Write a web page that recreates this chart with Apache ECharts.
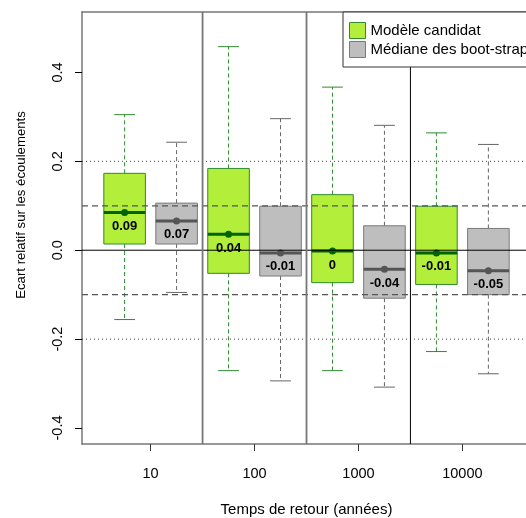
<!DOCTYPE html>
<html><head><meta charset="utf-8">
<script src="https://cdn.jsdelivr.net/npm/echarts@6/dist/echarts.min.js"></script>
<style>html,body{margin:0;padding:0;background:#fff}#c{width:526px;height:518px}</style>
</head><body><div id="c"></div>
<script>
// ---- data ----
const groups = ["10", "100", "1000", "10000"];
const tickPositions = [1.5, 3.5, 5.5, 7.5];
const yTicks = [-0.4, -0.2, 0, 0.2, 0.4];

const candLow  = [-0.156, -0.271, -0.271, -0.228];
const candQ1   = [0.014, -0.052, -0.073, -0.077];
const candMed  = [0.085, 0.036, -0.002, -0.006];
const candQ3   = [0.173, 0.184, 0.125, 0.099];
const candHigh = [0.305, 0.458, 0.367, 0.264];
const candLabels = ["0.09", "0.04", "0", "-0.01"];

const bootLow  = [-0.095, -0.294, -0.308, -0.278];
const bootQ1   = [0.014, -0.058, -0.108, -0.100];
const bootMed  = [0.066, -0.006, -0.043, -0.046];
const bootQ3   = [0.106, 0.099, 0.055, 0.049];
const bootHigh = [0.243, 0.296, 0.281, 0.238];
const bootLabels = ["0.07", "-0.01", "-0.04", "-0.05"];

const refLines = [0.2, 0.1, 0, -0.1, -0.2];
const separators = [2.5, 4.5, 6.5];

const FONT = '"Liberation Sans", Arial, sans-serif';
const BORDER = { color: '#777', width: 1.5 };

function buildData(low, q1, med, q3, high, offset) {
  return groups.map((g, i) => [2 * i + offset, low[i], q1[i], med[i], q3[i], high[i]]);
}

function makeRender(labels, st) {
  return function (params, api) {
    const x = api.value(0);
    const pLow = api.coord([x, api.value(1)]);
    const pQ1 = api.coord([x, api.value(2)]);
    const pMed = api.coord([x, api.value(3)]);
    const pQ3 = api.coord([x, api.value(4)]);
    const pHigh = api.coord([x, api.value(5)]);
    const w = api.size([0.8, 0])[0];
    const cx = pMed[0];
    const dash = { stroke: st.whisk, lineWidth: 1, lineDash: [4, 3] };
    const cap = { stroke: st.whisk, lineWidth: 1 };
    return {
      type: 'group',
      children: [
        { type: 'line', shape: { x1: cx, y1: pQ3[1], x2: cx, y2: pHigh[1] }, style: dash },
        { type: 'line', shape: { x1: cx, y1: pQ1[1], x2: cx, y2: pLow[1] }, style: dash },
        { type: 'line', shape: { x1: cx - w / 4, y1: pHigh[1], x2: cx + w / 4, y2: pHigh[1] }, style: cap },
        { type: 'line', shape: { x1: cx - w / 4, y1: pLow[1], x2: cx + w / 4, y2: pLow[1] }, style: cap },
        { type: 'rect', shape: { x: cx - w / 2, y: pQ3[1], width: w, height: pQ1[1] - pQ3[1] },
          style: { fill: st.fill, stroke: st.stroke, lineWidth: 1 } },
        { type: 'line', shape: { x1: cx - w / 2, y1: pMed[1], x2: cx + w / 2, y2: pMed[1] },
          style: { stroke: st.med, lineWidth: 3 } },
        { type: 'circle', shape: { cx: cx, cy: pMed[1], r: 3.5 }, style: { fill: st.med } },
        { type: 'text', x: cx, y: pMed[1] + 14,
          style: { text: labels[params.dataIndex], align: 'center', verticalAlign: 'middle',
                   fontSize: 13, fontWeight: 'bold', fontFamily: FONT, fill: '#000' } }
      ]
    };
  };
}

const candStyle = { fill: '#B3EE3A', stroke: '#2E8B2E', med: '#006400', whisk: '#2E8B2E' };
const bootStyle = { fill: '#BEBEBE', stroke: '#7A7A7A', med: '#555555', whisk: '#666666' };

const chart = echarts.init(document.getElementById('c'), null, { renderer: 'canvas' });
chart.setOption({
  animation: false,
  backgroundColor: '#fff',
  grid: { left: 82, top: 12, right: -5, bottom: 74, show: false,
          outerBoundsMode: 'none', containLabel: false },
  xAxis: [{
    type: 'value', min: 0.18, max: 8.82, position: 'bottom',
    axisLine: { show: true, onZero: false, lineStyle: BORDER },
    splitLine: { show: false },
    axisTick: { show: true, length: 7, customValues: tickPositions, lineStyle: { color: '#333' } },
    axisLabel: { customValues: tickPositions, formatter: v => groups[tickPositions.indexOf(v)] || '',
                 fontSize: 14.5, color: '#000', fontFamily: FONT, margin: 22 },
    name: 'Temps de retour (années)', nameLocation: 'middle', nameGap: 58,
    nameTextStyle: { fontSize: 15, color: '#000', fontFamily: FONT }
  }, {
    type: 'value', min: 0.18, max: 8.82, position: 'top',
    axisLine: { show: true, onZero: false, lineStyle: BORDER },
    splitLine: { show: false }, axisTick: { show: false }, axisLabel: { show: false }
  }],
  yAxis: {
    type: 'value', min: -0.436, max: 0.536,
    axisLine: { show: true, onZero: false, lineStyle: BORDER },
    splitLine: { show: false },
    axisTick: { show: true, length: 7, customValues: yTicks, lineStyle: { color: '#000' } },
    axisLabel: { customValues: yTicks, rotate: 90, formatter: v => v.toFixed(1),
                 fontSize: 14.5, color: '#000', fontFamily: FONT, margin: 17 },
    name: 'Ecart relatif sur les écoulements', nameLocation: 'middle', nameRotate: 90, nameGap: 54,
    nameTextStyle: { fontSize: 13.2, color: '#000', fontFamily: FONT, padding: [0, 0, 0, 46] }
  },
  legend: {
    data: [
      { name: 'Modèle candidat', icon: 'rect', itemStyle: { color: '#B3EE3A', borderColor: '#2E8B2E', borderWidth: 1 } },
      { name: 'Médiane des boot-strap', icon: 'rect', itemStyle: { color: '#BEBEBE', borderColor: '#7A7A7A', borderWidth: 1 } }
    ],
    orient: 'vertical', left: 343, top: 12, itemWidth: 16, itemHeight: 16, itemGap: 2,
    padding: [10, 12, 9, 6], backgroundColor: '#fff', borderColor: '#333', borderWidth: 1, borderRadius: 0,
    textStyle: { fontSize: 15, color: '#000', fontFamily: FONT }, selectedMode: false, z: 10
  },
  series: [
    { name: 'Modèle candidat', type: 'custom', data: buildData(candLow, candQ1, candMed, candQ3, candHigh, 1),
      renderItem: makeRender(candLabels, candStyle), itemStyle: { color: '#B3EE3A' }, z: 2, silent: true },
    { name: 'Médiane des boot-strap', type: 'custom', data: buildData(bootLow, bootQ1, bootMed, bootQ3, bootHigh, 2),
      renderItem: makeRender(bootLabels, bootStyle), itemStyle: { color: '#BEBEBE' }, z: 2, silent: true },
    { type: 'custom', data: refLines.map(v => [1, v]), z: 3, silent: true,
      renderItem: function (params, api) {
        const v = api.value(1);
        const y = api.coord([1, v])[1];
        const cs = params.coordSys;
        let style;
        if (v === 0) style = { stroke: '#000', lineWidth: 1 };
        else if (Math.abs(v) > 0.15) style = { stroke: '#444', lineWidth: 1, lineDash: [1, 3] };
        else style = { stroke: '#555', lineWidth: 1.2, lineDash: [6, 4] };
        return { type: 'line', shape: { x1: cs.x, y1: y, x2: cs.x + cs.width, y2: y }, style: style };
      } },
    { type: 'custom', data: separators.map(v => [v, 0]), z: 3, silent: true,
      renderItem: function (params, api) {
        const v = api.value(0);
        const x = api.coord([v, 0])[0];
        const cs = params.coordSys;
        const style = params.dataIndex < 2 ? { stroke: '#777', lineWidth: 1.8 } : { stroke: '#000', lineWidth: 1 };
        return { type: 'line', shape: { x1: x, y1: cs.y, x2: x, y2: cs.y + cs.height }, style: style };
      } }
  ]
});
</script></body></html>
